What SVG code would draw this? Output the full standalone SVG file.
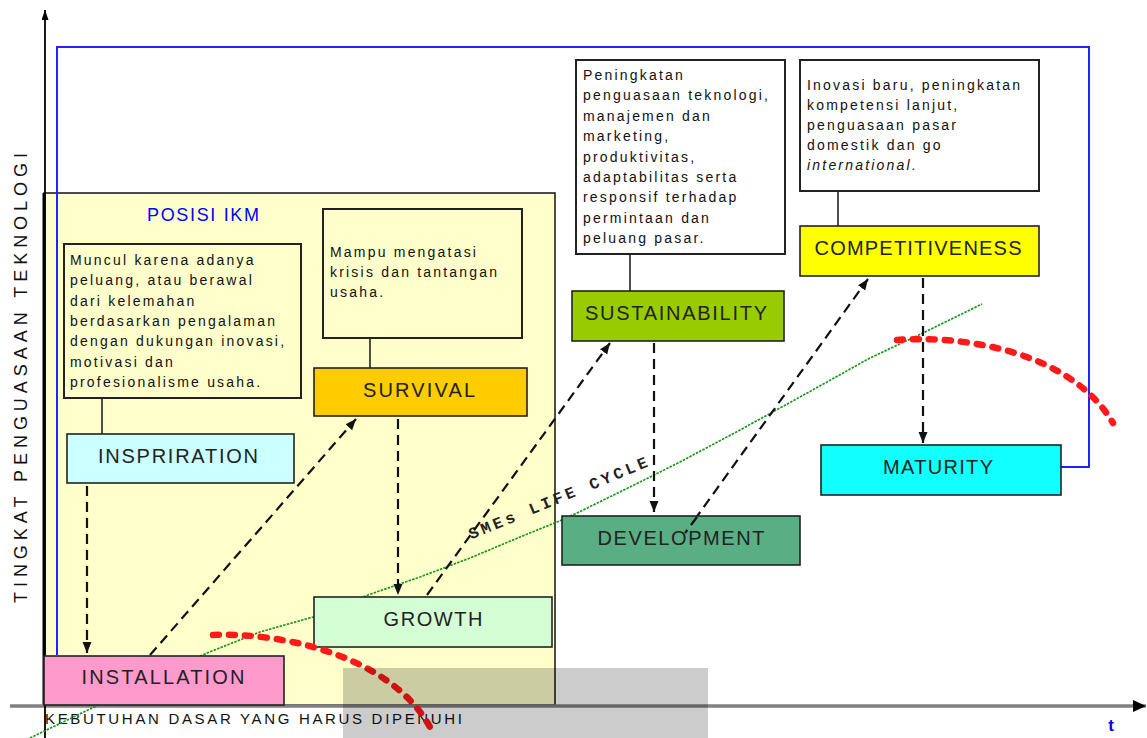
<svg xmlns="http://www.w3.org/2000/svg" width="1147" height="738" viewBox="0 0 1147 738">
<defs>
<marker id="ah" markerUnits="userSpaceOnUse" markerWidth="12" markerHeight="10" refX="11" refY="4.5" orient="auto">
<path d="M0,0 L11,4.5 L0,9 z" fill="#111"/>
</marker>
<marker id="axr" markerUnits="userSpaceOnUse" markerWidth="14" markerHeight="12" refX="13" refY="6" orient="auto">
<path d="M0,0 L13,6 L0,12 z" fill="#000"/>
</marker>
<marker id="axu" markerUnits="userSpaceOnUse" markerWidth="10" markerHeight="12" refX="10" refY="3.5" orient="auto">
<path d="M0,0 L10,3.5 L0,7 z" fill="#000"/>
</marker>
</defs>
<style>
.node rect{stroke:#222;stroke-width:1.6}
.lbl{font-family:"Liberation Sans",Arial,sans-serif;font-size:20px;fill:#222;text-anchor:middle}
.note rect{fill:none;stroke:#222;stroke-width:2}
.body{font-family:"Liberation Sans",Arial,sans-serif;font-size:14px;fill:#111;letter-spacing:2.2px}
.link{stroke:#222;stroke-width:1.6}
.dash{stroke:#111;stroke-width:2.2;stroke-dasharray:10 6;fill:none;marker-end:url(#ah)}
.red{fill:none;stroke:#ff1a1a;stroke-width:6.5;stroke-dasharray:6 10;stroke-linecap:round}
</style>
<rect width="1147" height="738" fill="#fff"/>
<!-- POSISI IKM region -->
<g id="posisi-ikm">
<rect x="44" y="193" width="511" height="512" fill="#ffffcc" stroke="#111" stroke-width="1.5"/>
<line x1="44" y1="193" x2="44" y2="705" stroke="#000" stroke-width="3"/>
<text x="203" y="221" font-family="Liberation Sans,Arial,sans-serif" font-size="18" fill="#0000ff" text-anchor="middle" textLength="112" lengthAdjust="spacing">POSISI IKM</text>
</g>
<!-- blue frame -->
<polyline points="57,655 57,47 1089,47 1089,467 1060,467" fill="none" stroke="#2222ff" stroke-width="2"/>
<!-- axes -->
<g id="axes">
<line x1="10" y1="706" x2="1146" y2="706" stroke="#808080" stroke-width="3.5" marker-end="url(#axr)"/>
<line x1="45" y1="738" x2="45" y2="10" stroke="#000" stroke-width="1.8" marker-end="url(#axu)"/>
<text x="1111" y="731" font-family="Liberation Sans,Arial,sans-serif" font-size="17" font-weight="bold" fill="#0000ff" text-anchor="middle">t</text>
<text x="45" y="724" font-family="Liberation Sans,Arial,sans-serif" font-size="15" fill="#111" textLength="417" lengthAdjust="spacing">KEBUTUHAN DASAR YANG HARUS DIPENUHI</text>
<text transform="translate(27,378) rotate(-90)" font-family="Liberation Sans,Arial,sans-serif" font-size="18" fill="#111" text-anchor="middle" textLength="450" lengthAdjust="spacing">TINGKAT PENGUASAAN TEKNOLOGI</text>
</g>
<!-- SMEs life cycle line -->
<g id="life-cycle">
<polyline points="30,738 88,710 150,680 207,653 260,632 313,617 368,595 420,577 470,558 520,537 557,522 577,513 630,487 680,462 740,430 800,397 870,358 923,333 982,304" fill="none" stroke="#1a961a" stroke-width="1.7" stroke-dasharray="2.5 1.2"/>
<text transform="translate(560,503) rotate(-22.4)" font-family="Liberation Mono,monospace" font-size="16" font-weight="bold" fill="#222" text-anchor="middle" textLength="192" lengthAdjust="spacing">SMEs LIFE CYCLE</text>
</g>
<!-- notes -->
<g id="note-inspiration" class="note">
<rect x="64" y="244" width="237" height="154"/>
<text class="body" x="70" y="265">Muncul karena adanya</text>
<text class="body" x="70" y="285">peluang, atau berawal</text>
<text class="body" x="70" y="306">dari kelemahan</text>
<text class="body" x="70" y="326">berdasarkan pengalaman</text>
<text class="body" x="70" y="346">dengan dukungan inovasi,</text>
<text class="body" x="70" y="367">motivasi dan</text>
<text class="body" x="70" y="387">profesionalisme usaha.</text>
</g>
<g id="note-survival" class="note">
<rect x="323" y="209" width="199" height="129"/>
<text class="body" x="330" y="257">Mampu mengatasi</text>
<text class="body" x="330" y="277">krisis dan tantangan</text>
<text class="body" x="330" y="297">usaha.</text>
</g>
<g id="note-sustainability" class="note">
<rect x="576" y="60" width="209" height="194"/>
<text class="body" x="583" y="80">Peningkatan</text>
<text class="body" x="583" y="100">penguasaan teknologi,</text>
<text class="body" x="583" y="121">manajemen dan</text>
<text class="body" x="583" y="141">marketing,</text>
<text class="body" x="583" y="162">produktivitas,</text>
<text class="body" x="583" y="182">adaptabilitas serta</text>
<text class="body" x="583" y="202">responsif terhadap</text>
<text class="body" x="583" y="223">permintaan dan</text>
<text class="body" x="583" y="243">peluang pasar.</text>
</g>
<g id="note-competitiveness" class="note">
<rect x="800" y="60" width="239" height="131"/>
<text class="body" x="807" y="90">Inovasi baru, peningkatan</text>
<text class="body" x="807" y="110">kompetensi lanjut,</text>
<text class="body" x="807" y="130">penguasaan pasar</text>
<text class="body" x="807" y="150">domestik dan go</text>
<text class="body" x="807" y="170" font-style="italic" fill="#555">international.</text>
</g>
<!-- connectors -->
<g id="connectors">
<line class="link" x1="102" y1="398" x2="102" y2="434"/>
<line class="link" x1="370" y1="338" x2="370" y2="368"/>
<line class="link" x1="630" y1="254" x2="630" y2="291"/>
<line class="link" x1="838" y1="191" x2="838" y2="226"/>
<path class="dash" d="M87,486 L87,653"/>
<path class="dash" d="M150,655 L356,419"/>
<path class="dash" d="M398,419 L398,595"/>
<path class="dash" d="M427,595 L610,343"/>
<path class="dash" d="M654,343 L654,512"/>
<path class="dash" d="M685,533 L868,279"/>
<path class="dash" d="M923,278 L923,443"/>
</g>
<!-- nodes -->
<g id="inspiration" class="node">
<rect x="67" y="434" width="227" height="49" fill="#ccffff"/>
<text class="lbl" x="178" y="463" textLength="160" lengthAdjust="spacing">INSPRIRATION</text>
</g>
<g id="installation" class="node">
<rect x="44" y="656" width="240" height="49" fill="#ff9acd"/>
<text class="lbl" x="163" y="684" textLength="163" lengthAdjust="spacing">INSTALLATION</text>
</g>
<g id="survival" class="node">
<rect x="314" y="368" width="213" height="48" fill="#ffcc00"/>
<text class="lbl" x="419" y="397" textLength="112" lengthAdjust="spacing">SURVIVAL</text>
</g>
<g id="growth" class="node">
<rect x="314" y="597" width="238" height="50" fill="#d4ffd4"/>
<text class="lbl" x="433" y="626" textLength="99" lengthAdjust="spacing">GROWTH</text>
</g>
<g id="sustainability" class="node">
<rect x="572" y="291" width="212" height="50" fill="#99cc00"/>
<text class="lbl" x="676" y="320" textLength="182" lengthAdjust="spacing">SUSTAINABILITY</text>
</g>
<g id="development" class="node">
<rect x="562" y="516" width="238" height="49" fill="#5aae84"/>
<text class="lbl" x="681" y="545" textLength="167" lengthAdjust="spacing">DEVELOPMENT</text>
</g>
<g id="competitiveness" class="node">
<rect x="800" y="226" width="239" height="50" fill="#ffff00"/>
<text class="lbl" x="918" y="255" textLength="207" lengthAdjust="spacing">COMPETITIVENESS</text>
</g>
<g id="maturity" class="node">
<rect x="821" y="445" width="240" height="50" fill="#11ffff"/>
<text class="lbl" x="938" y="474" textLength="110" lengthAdjust="spacing">MATURITY</text>
</g>
<!-- dashed segment continuing over development box -->
<path d="M697,517 L685,533" stroke="#111" stroke-width="2.2" stroke-dasharray="10 6" fill="none"/>
<!-- red curves -->
<path class="red" d="M213,635 C280,632 390,655 430,727"/>
<path class="red" d="M897,340 C960,335 1070,350 1113,423"/>
<!-- watermark block -->
<rect x="343" y="668" width="365" height="70" fill="#000" opacity="0.2"/>
</svg>
